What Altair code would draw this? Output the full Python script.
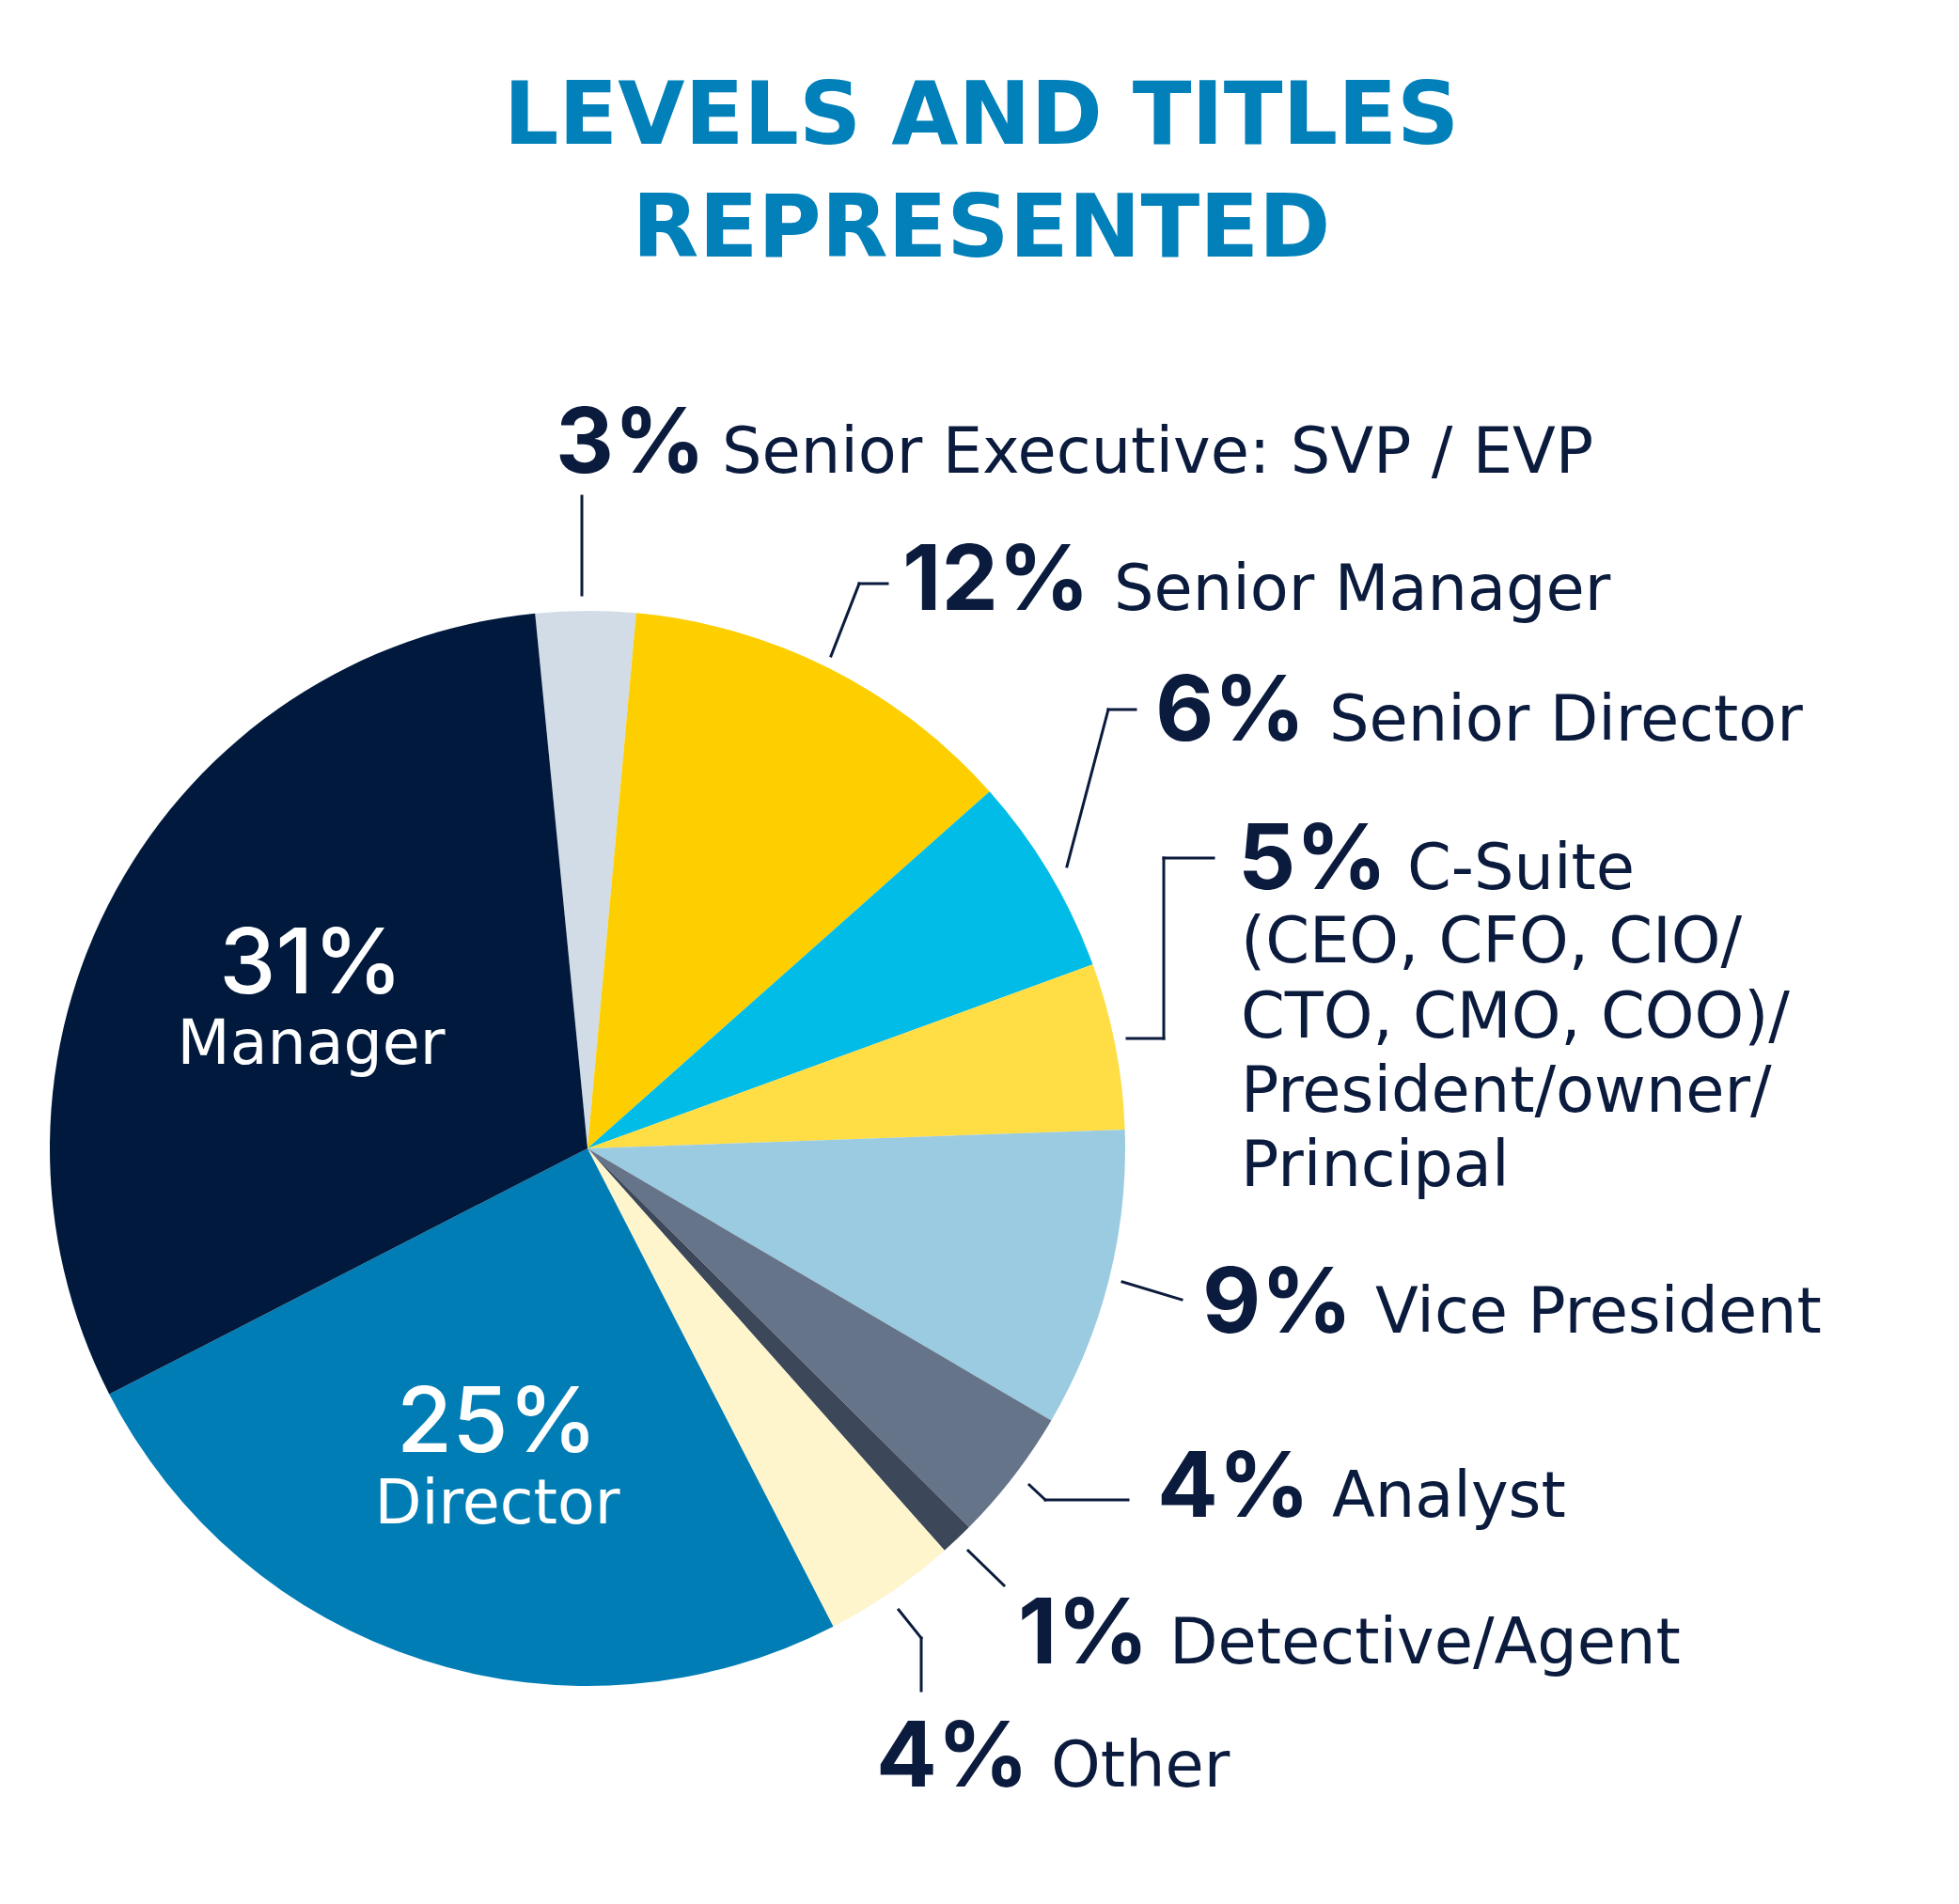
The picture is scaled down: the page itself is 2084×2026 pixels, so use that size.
import altair as alt
import pandas as pd
import math

# ---------------- data ----------------
categories = ["Senior Executive: SVP / EVP", "Senior Manager", "Senior Director", "C-Suite",
              "Vice President", "Analyst", "Detective/Agent", "Other", "Director", "Manager"]
values = [3, 12, 6, 5, 9, 4, 1, 4, 25, 31]
colors = ["#D1DCE7", "#FDCE00", "#00BCE6", "#FEDD45", "#9BCBE0",
          "#667489", "#3C4859", "#FEF5CC", "#007DB5", "#00193C"]
csuite_extra = ["(CEO, CFO, CIO/", "CTO, CMO, COO)/", "President/owner/", "Principal"]
title_lines = ["LEVELS AND TITLES", "REPRESENTED"]

# ---------------- layout (page pixels) ----------------
OFF = 8
W, H = 2068, 2010
CX, CY, R = 625, 1222, 572
START = math.radians(-5.6)
NAVY = "#0B1B3D"

# outside labels: category -> (pct x-left, name x-left, baseline)
outside_pos = {
    "Senior Executive: SVP / EVP": (591, 768, 503),
    "Senior Manager": (960, 1185, 649),
    "Senior Director": (1229, 1414, 788),
    "C-Suite": (1317, 1497, 946),
    "Vice President": (1279, 1463, 1418),
    "Analyst": (1231, 1417, 1614),
    "Detective/Agent": (1083, 1244, 1770),
    "Other": (932, 1118, 1901),
}
csuite_extra_pos = [(1320, 1024), (1320, 1104), (1320, 1183), (1320, 1262)]
# inside labels: category -> (center x, pct baseline, name baseline)
inside_pos = {"Manager": (331, 1057, 1132), "Director": (529, 1545, 1621)}

leaders = [
    [(619, 528), (619, 633)],
    [(884, 698), (914, 621), (944, 621)],
    [(1135, 922), (1179, 755), (1208, 755)],
    [(1291, 913), (1238, 913), (1238, 1105), (1199, 1105)],
    [(1194, 1364), (1257, 1383)],
    [(1095, 1580), (1112, 1596), (1200, 1596)],
    [(1030, 1650), (1068, 1687)],
    [(956, 1713), (980, 1743), (980, 1799)],
]

# ---------------- tables ----------------
pie_df = pd.DataFrame({"cat": categories, "value": values,
                       "idx": list(range(len(values))), "color": colors})

pct_rows, name_rows, in_pct_rows, in_name_rows = [], [], [], []
for c, v in zip(categories, values):
    if c in outside_pos:
        px, nx, by = outside_pos[c]
        pct_rows.append({"t": f"{v}%", "x": px - OFF, "y": by - OFF})
        name_rows.append({"t": c, "x": nx - OFF, "y": by - OFF})
    else:
        cx, pb, nb = inside_pos[c]
        in_pct_rows.append({"t": f"{v}%", "x": cx - OFF, "y": pb - OFF})
        in_name_rows.append({"t": c, "x": cx - OFF, "y": nb - OFF})
for t, (x, y) in zip(csuite_extra, csuite_extra_pos):
    name_rows.append({"t": t, "x": x - OFF, "y": y - OFF})

title_df = pd.DataFrame({"t": title_lines, "x": [1044 - OFF] * 2, "y": [153 - OFF, 273 - OFF]})

seg_rows = []
for path in leaders:
    for (x1, y1), (x2, y2) in zip(path[:-1], path[1:]):
        seg_rows.append({"x": x1 - OFF, "y": y1 - OFF, "x2": x2 - OFF, "y2": y2 - OFF})
seg_df = pd.DataFrame(seg_rows)

X = lambda f: alt.X(f"{f}:Q", scale=None, axis=None)
Y = lambda f: alt.Y(f"{f}:Q", scale=None, axis=None)

pie = alt.Chart(pie_df).mark_arc(outerRadius=R, strokeWidth=0).encode(
    theta=alt.Theta("value:Q", stack=True, scale=alt.Scale(range=[START, START + 2 * math.pi])),
    order=alt.Order("idx:Q"),
    color=alt.Color("color:N", scale=None),
    x=alt.value(CX - OFF),
    y=alt.value(CY - OFF),
)

lines = alt.Chart(seg_df).mark_rule(color=NAVY, strokeWidth=3, strokeCap="square").encode(
    x=X("x"), y=Y("y"), x2="x2:Q", y2="y2:Q")


def text_layer(df, font, size, weight, color, align):
    return alt.Chart(pd.DataFrame(df)).mark_text(
        font=font, fontSize=size, fontWeight=weight, color=color,
        align=align, baseline="alphabetic").encode(x=X("x"), y=Y("y"), text="t:N")

title = text_layer(title_df, "DejaVu Sans", 92, "bold", "#0180B9", "center")
pct = text_layer(pct_rows, "Inter", 96, 700, NAVY, "left")
names = text_layer(name_rows, "DejaVu Sans", 67, "normal", NAVY, "left")
in_pct = text_layer(in_pct_rows, "Inter", 96, 500, "white", "center")
in_names = text_layer(in_name_rows, "DejaVu Sans", 65, "normal", "white", "center")

chart = alt.layer(pie, lines, title, pct, names, in_pct, in_names).properties(
    width=W, height=H, padding=0, autosize="none", background="white"
).configure_view(strokeWidth=0)

chart.save("out.html", embed_options={"renderer": "svg", "actions": False})
